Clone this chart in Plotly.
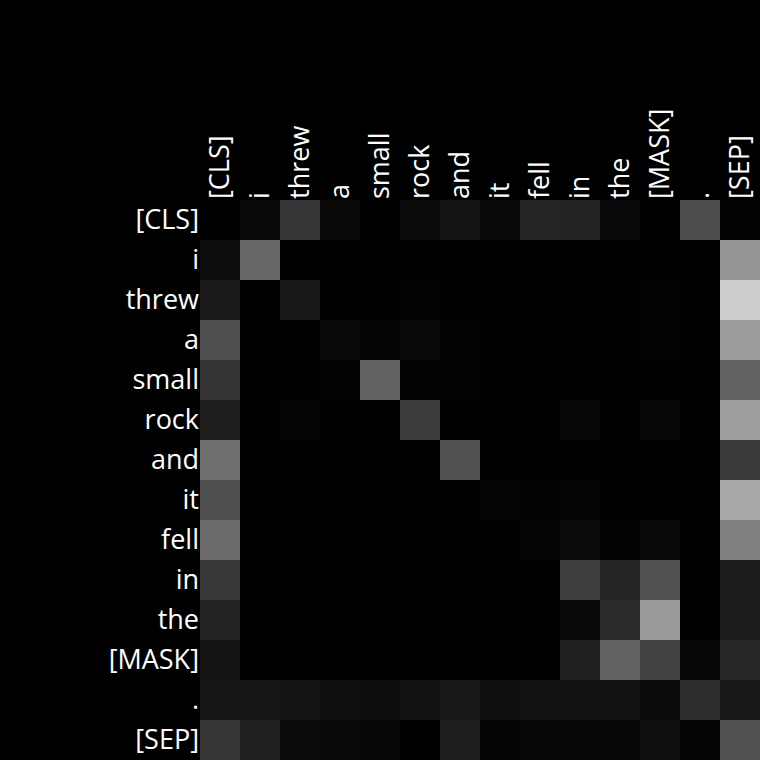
import plotly.graph_objects as go

tokens = ["[CLS]", "i", "threw", "a", "small", "rock", "and", "it", "fell", "in", "the", "[MASK]", ".", "[SEP]"]

attention = [
    [0.000, 0.031, 0.208, 0.039, 0.000, 0.047, 0.075, 0.039, 0.145, 0.137, 0.031, 0.000, 0.298, 0.012],
    [0.051, 0.400, 0.000, 0.000, 0.000, 0.000, 0.000, 0.000, 0.000, 0.000, 0.000, 0.000, 0.000, 0.588],
    [0.102, 0.000, 0.094, 0.000, 0.000, 0.008, 0.000, 0.000, 0.000, 0.000, 0.000, 0.008, 0.000, 0.800],
    [0.314, 0.000, 0.000, 0.039, 0.016, 0.031, 0.008, 0.000, 0.000, 0.000, 0.000, 0.008, 0.000, 0.612],
    [0.200, 0.000, 0.000, 0.008, 0.388, 0.008, 0.008, 0.000, 0.000, 0.000, 0.000, 0.000, 0.000, 0.388],
    [0.118, 0.000, 0.020, 0.000, 0.000, 0.239, 0.000, 0.000, 0.000, 0.024, 0.000, 0.024, 0.000, 0.620],
    [0.431, 0.000, 0.000, 0.000, 0.000, 0.000, 0.322, 0.000, 0.000, 0.000, 0.000, 0.000, 0.000, 0.227],
    [0.314, 0.000, 0.000, 0.000, 0.000, 0.000, 0.000, 0.016, 0.012, 0.020, 0.000, 0.000, 0.000, 0.659],
    [0.416, 0.000, 0.000, 0.000, 0.000, 0.000, 0.000, 0.000, 0.016, 0.043, 0.012, 0.039, 0.000, 0.502],
    [0.220, 0.000, 0.000, 0.000, 0.000, 0.000, 0.000, 0.000, 0.000, 0.247, 0.141, 0.322, 0.000, 0.110],
    [0.133, 0.000, 0.000, 0.000, 0.000, 0.000, 0.000, 0.000, 0.000, 0.039, 0.165, 0.604, 0.000, 0.110],
    [0.078, 0.000, 0.000, 0.000, 0.000, 0.000, 0.000, 0.000, 0.000, 0.125, 0.388, 0.259, 0.027, 0.153],
    [0.086, 0.082, 0.078, 0.063, 0.051, 0.067, 0.094, 0.063, 0.071, 0.071, 0.067, 0.047, 0.180, 0.094],
    [0.208, 0.125, 0.047, 0.039, 0.027, 0.004, 0.122, 0.020, 0.024, 0.024, 0.027, 0.059, 0.020, 0.322],
]

fig = go.Figure(
    go.Heatmap(
        z=attention,
        x=list(range(len(tokens))),
        y=list(range(len(tokens))),
        colorscale=[[0, "#000000"], [1, "#ffffff"]],
        zmin=0,
        zmax=1,
        showscale=False,
        hoverinfo="skip",
    )
)

fig.update_layout(
    width=760,
    height=760,
    margin=dict(l=200, r=0, t=200, b=0),
    paper_bgcolor="black",
    plot_bgcolor="black",
    font=dict(family="Open Sans", size=27, color="white"),
)
fig.update_xaxes(
    side="top",
    tickmode="array",
    tickvals=list(range(len(tokens))),
    ticktext=tokens,
    tickangle=-90,
    showgrid=False,
    zeroline=False,
    showline=False,
    ticks="",
    range=[-0.5, len(tokens) - 0.5],
)
fig.update_yaxes(
    tickmode="array",
    tickvals=list(range(len(tokens))),
    ticktext=tokens,
    showgrid=False,
    zeroline=False,
    showline=False,
    ticks="",
    range=[len(tokens) - 0.5, -0.5],
)

fig.write_html("out.html")
